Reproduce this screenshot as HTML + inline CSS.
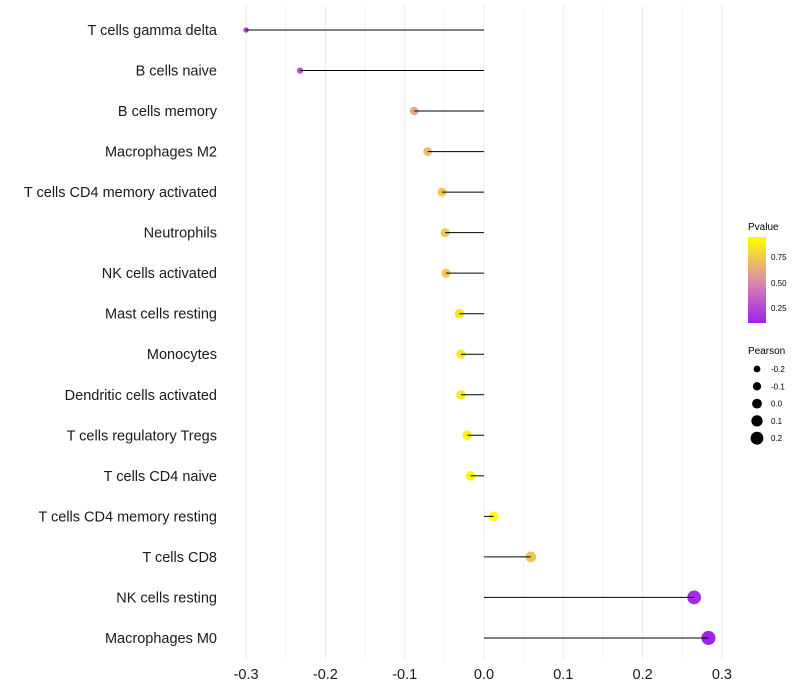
<!DOCTYPE html>
<html><head><meta charset="utf-8"><style>
html,body{margin:0;padding:0;background:#fff;}
svg{display:block;font-family:"Liberation Sans",sans-serif;}
</style></head><body>
<svg id="chart" width="800" height="700">
<defs><linearGradient id="pgrad" x1="0" y1="1" x2="0" y2="0">
<stop offset="0" stop-color="#a020f0"/><stop offset="0.5" stop-color="#dc8fa8"/><stop offset="1" stop-color="#ffff00"/></linearGradient></defs>
<g id="grid"></g>
<g id="dots"></g>
<g id="marks"></g>
<g id="ylabels"></g>
<g id="xlabels"></g>
<g>
<text x="748" y="230" font-size="10">Pvalue</text>
<rect x="748" y="237" width="18" height="86" fill="url(#pgrad)"/>
<text x="771" y="260" font-size="8">0.75</text>
<text x="771" y="286" font-size="8">0.50</text>
<text x="771" y="311" font-size="8">0.25</text>
</g>
<g id="sizeleg">
<text x="748" y="354" font-size="10">Pearson</text>
</g>
</svg>
<script>
const categories=["T cells gamma delta","B cells naive","B cells memory","Macrophages M2","T cells CD4 memory activated","Neutrophils","NK cells activated","Mast cells resting","Monocytes","Dendritic cells activated","T cells regulatory  Tregs ","T cells CD4 naive","T cells CD4 memory resting","T cells CD8","NK cells resting","Macrophages M0"];
const pearson=[-0.300,-0.232,-0.088,-0.071,-0.053,-0.049,-0.048,-0.031,-0.029,-0.029,-0.021,-0.017,0.012,0.059,0.265,0.283];
const pvalues=[0.22,0.30,0.62,0.70,0.74,0.75,0.75,0.85,0.86,0.86,0.90,0.92,0.95,0.73,0.15,0.12];
const xTicks=[-0.3,-0.2,-0.1,0.0,0.1,0.2,0.3];
const xTickLabels=["-0.3","-0.2","-0.1","0.0","0.1","0.2","0.3"];
const sizeLegendValues=[-0.2,-0.1,0.0,0.1,0.2];

const NS="http://www.w3.org/2000/svg";
function xs(v){return 484+v*793;}
function ys(i){return 30+i*40.53;}
function rs(v){return Math.max(1.5,4.9+7.5*v);}
function col(p){
  const t=Math.max(0,Math.min(1,(p-0.113)/(0.946-0.113)));
  const a=[160,32,240],m=[220,143,168],b=[255,255,0];
  let c;
  if(t<0.5){const u=t/0.5;c=a.map((x,k)=>Math.round(x+(m[k]-x)*u));}
  else{const u=(t-0.5)/0.5;c=m.map((x,k)=>Math.round(x+(b[k]-x)*u));}
  return "rgb("+c.join(",")+")";
}
function mk(tag,attrs,parent){const e=document.createElementNS(NS,tag);for(const k in attrs)e.setAttribute(k,attrs[k]);parent.appendChild(e);return e;}
const grid=document.getElementById("grid");
for(let i=0;i<xTicks.length;i++){
  const l=mk("line",{x1:xs(xTicks[i]),x2:xs(xTicks[i]),y1:5,y2:660,stroke:"#ececec","stroke-width":1},grid);
  
  
  if(i<xTicks.length-1){
    const m=mk("line",{x1:xs((xTicks[i]+xTicks[i+1])/2),x2:xs((xTicks[i]+xTicks[i+1])/2),y1:5,y2:660,stroke:"#f4f4f4","stroke-width":1},grid);
    
    
  }
}
const marks=document.getElementById("marks"),dots=document.getElementById("dots"),yl=document.getElementById("ylabels"),xl=document.getElementById("xlabels");
categories.forEach((c,i)=>{
  const y=ys(i);
  const dot=mk("circle",{cx:xs(pearson[i]),cy:y,r:rs(pearson[i]),fill:col(pvalues[i])},dots);
  
  
  const seg=mk("line",{x1:xs(0),x2:xs(pearson[i]),y1:y,y2:y,stroke:"#000","stroke-width":1},marks);
  
  
  const t=mk("text",{x:217,y:y+5,"font-size":14.5,"text-anchor":"end",fill:"#1a1a1a","xml:space":"preserve"},yl);
  t.textContent=c;
  
  
});
xTicks.forEach((v,i)=>{
  const t=mk("text",{x:xs(v),y:679,"font-size":14.5,"text-anchor":"middle",fill:"#1a1a1a"},xl);
  t.textContent=xTickLabels[i];
  
  
});
const sl=document.getElementById("sizeleg");
sizeLegendValues.forEach((v,i)=>{
  const y=369+i*17.3;
  const c=mk("circle",{cx:757,cy:y,r:rs(v),fill:"#000"},sl);
  
  
  const t=mk("text",{x:771,y:y+3,"font-size":8},sl);
  t.textContent=v.toFixed(1);
  
  
});
</script>
</body></html>
